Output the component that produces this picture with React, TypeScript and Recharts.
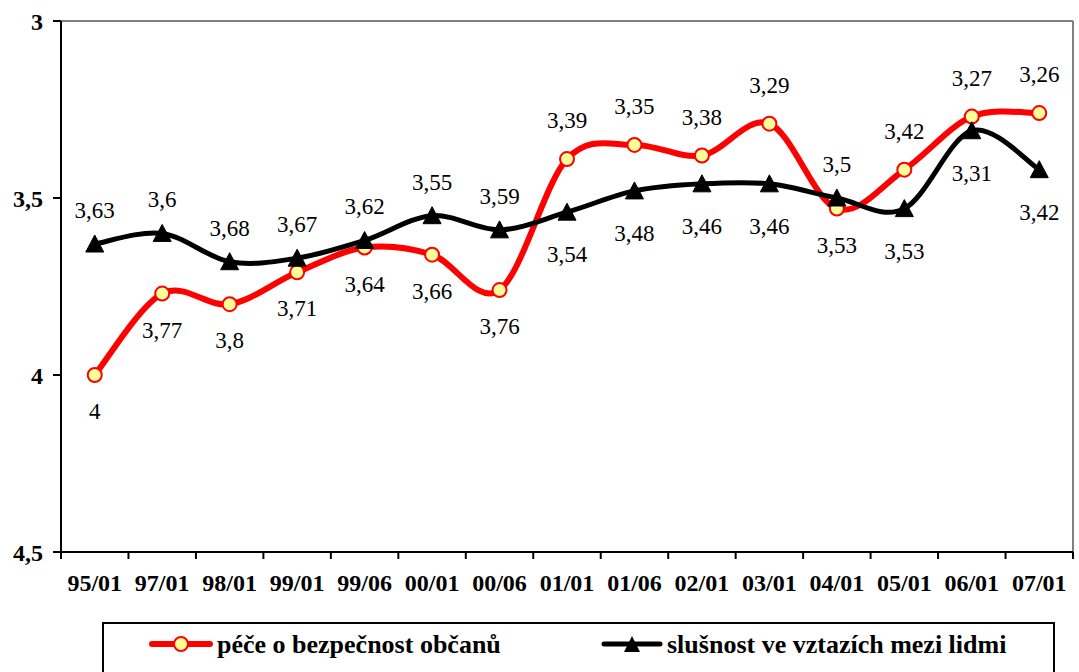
import React from 'react';
import { LineChart, Line, XAxis, YAxis, LabelList, Legend, ReferenceLine } from 'recharts';

const categories = ['95/01', '97/01', '98/01', '99/01', '99/06', '00/01', '00/06', '01/01', '01/06', '02/01', '03/01', '04/01', '05/01', '06/01', '07/01'];
const safetyValues = [4, 3.77, 3.8, 3.71, 3.64, 3.66, 3.76, 3.39, 3.35, 3.38, 3.29, 3.53, 3.42, 3.27, 3.26];
const decencyValues = [3.63, 3.6, 3.68, 3.67, 3.62, 3.55, 3.59, 3.54, 3.48, 3.46, 3.46, 3.5, 3.53, 3.31, 3.42];
const yTicks = [3, 3.5, 4, 4.5];
const seriesNames = ['péče o bezpečnost občanů', 'slušnost ve vztazích mezi lidmi'];

const data = categories.map((c, i) => ({ cat: c, safety: safetyValues[i], decency: decencyValues[i] }));

const FONT = "Liberation Serif, DejaVu Serif, serif";
const RED = '#FF0000';
const MARKER_FILL = '#FFFF99';
const W = 1079;
const H = 672;
const PLOT_W = 1012;

const fmt = (v: number) => String(v).replace('.', ',');

// Excel-style smoothed line (Catmull-Rom / cardinal tension 0)
const excelCurve = (context: any) => {
  let pts: number[][] = [];
  return {
    areaStart() {},
    areaEnd() {},
    lineStart() {
      pts = [];
    },
    lineEnd() {
      const n = pts.length;
      if (!n) return;
      context.moveTo(pts[0][0], pts[0][1]);
      for (let i = 0; i < n - 1; i++) {
        const p0 = pts[Math.max(i - 1, 0)];
        const p1 = pts[i];
        const p2 = pts[i + 1];
        const p3 = pts[Math.min(i + 2, n - 1)];
        context.bezierCurveTo(
          p1[0] + (p2[0] - p0[0]) / 6,
          p1[1] + (p2[1] - p0[1]) / 6,
          p2[0] - (p3[0] - p1[0]) / 6,
          p2[1] - (p3[1] - p1[1]) / 6,
          p2[0],
          p2[1]
        );
      }
    },
    point(x: number, y: number) {
      pts.push([+x, +y]);
    },
  };
};

const RedDot = (props: any) => {
  const { cx, cy, index } = props;
  if (cx == null || cy == null) return <g key={`rd${index}`} />;
  return <circle key={`rd${index}`} cx={cx} cy={cy} r={7} fill={MARKER_FILL} stroke={RED} strokeWidth={2} />;
};

const BlackDot = (props: any) => {
  const { cx, cy, index } = props;
  if (cx == null || cy == null) return <g key={`bd${index}`} />;
  return (
    <path
      key={`bd${index}`}
      d={`M${cx},${cy - 9} L${cx + 9},${cy + 8} L${cx - 9},${cy + 8} Z`}
      fill="#000"
      stroke="#000"
      strokeWidth={1}
    />
  );
};

const makeLabel = (mine: number[], other: number[], aboveOff: number, belowOff: number) => (props: any) => {
  const { x, y, index, value } = props;
  if (x == null || y == null) return null;
  const above = mine[index] <= other[index];
  return (
    <text
      key={`l${index}`}
      x={x}
      y={above ? y - aboveOff : y + belowOff}
      textAnchor="middle"
      fontFamily={FONT}
      fontSize={23}
      fill="#000"
    >
      {fmt(value)}
    </text>
  );
};

const XTick = (props: any) => {
  const { x, y, payload, index, visibleTicksCount } = props;
  const count = visibleTicksCount || categories.length;
  const band = PLOT_W / count;
  const left = x - band / 2;
  return (
    <g>
      <line x1={left} x2={left} y1={y} y2={y + 7} stroke="#000" strokeWidth={2} />
      {index === count - 1 && (
        <line x1={x + band / 2} x2={x + band / 2} y1={y} y2={y + 7} stroke="#000" strokeWidth={2} />
      )}
      <text x={x} y={y + 39} textAnchor="middle" fontFamily={FONT} fontWeight="bold" fontSize={24} fill="#000">
        {payload.value}
      </text>
    </g>
  );
};

const LegendContent = () => (
  <div style={{ position: 'relative', width: W, height: 50 }}>
    <div
      style={{
        position: 'absolute',
        left: 102,
        top: 0,
        width: 953,
        height: 60,
        border: '2px solid #000',
        boxSizing: 'border-box',
        background: '#fff',
      }}
    />
    <svg style={{ position: 'absolute', left: 0, top: 0 }} width={W} height={50}>
      <line x1={152} x2={210} y1={22} y2={22} stroke={RED} strokeWidth={6} strokeLinecap="round" />
      <circle cx={181} cy={22} r={7} fill={MARKER_FILL} stroke={RED} strokeWidth={2} />
      <text x={217} y={31} fontFamily={FONT} fontWeight="bold" fontSize={26} fill="#000">
        {seriesNames[0]}
      </text>
      <line x1={604} x2={660} y1={22} y2={22} stroke="#000" strokeWidth={5} strokeLinecap="round" />
      <path d="M632,14 L640,30 L624,30 Z" fill="#000" />
      <text x={667} y={31} fontFamily={FONT} fontWeight="bold" fontSize={26} fill="#000">
        {seriesNames[1]}
      </text>
    </svg>
  </div>
);

export default function App() {
  return (
    <div style={{ position: 'absolute', left: 0, top: 0, width: W, height: H, background: '#fff', overflow: 'hidden', fontFamily: FONT }}>
      <LineChart width={W} height={H} data={data} margin={{ top: 21, right: 6, bottom: 0, left: 0 }}>
        <XAxis
          dataKey="cat"
          scale="band"
          height={70}
          axisLine={{ stroke: '#000', strokeWidth: 2 }}
          tickLine={false}
          tickSize={0}
          tickMargin={0}
          tick={<XTick />}
          interval={0}
        />
        <YAxis
          yAxisId="left"
          width={61}
          reversed
          domain={[3, 4.5]}
          ticks={yTicks}
          type="number"
          allowDataOverflow
          axisLine={{ stroke: '#000', strokeWidth: 2 }}
          tickLine={{ stroke: '#000', strokeWidth: 2 }}
          tickSize={8}
          tickMargin={10}
          tickFormatter={(v: number) => fmt(v)}
          tick={{ fontFamily: FONT, fontWeight: 'bold', fontSize: 24, fill: '#000' }}
        />
        <ReferenceLine yAxisId="left" y={3} stroke="#808080" strokeWidth={2} />
        <ReferenceLine yAxisId="left" x={categories[categories.length - 1]} position="end" stroke="#808080" strokeWidth={2} />
        <Line
          yAxisId="left"
          dataKey="safety"
          type={excelCurve as any}
          stroke={RED}
          strokeWidth={6}
          dot={RedDot}
          activeDot={false}
          isAnimationActive={false}
        >
          <LabelList dataKey="safety" content={makeLabel(safetyValues, decencyValues, 31, 44)} />
        </Line>
        <Line
          yAxisId="left"
          dataKey="decency"
          type={excelCurve as any}
          stroke="#000"
          strokeWidth={5}
          dot={BlackDot}
          activeDot={false}
          isAnimationActive={false}
        >
          <LabelList dataKey="decency" content={makeLabel(decencyValues, safetyValues, 26, 50)} />
        </Line>
        <Legend verticalAlign="bottom" content={<LegendContent />} wrapperStyle={{ left: 0, width: W, bottom: 0, height: 50 }} />
      </LineChart>
    </div>
  );
}
